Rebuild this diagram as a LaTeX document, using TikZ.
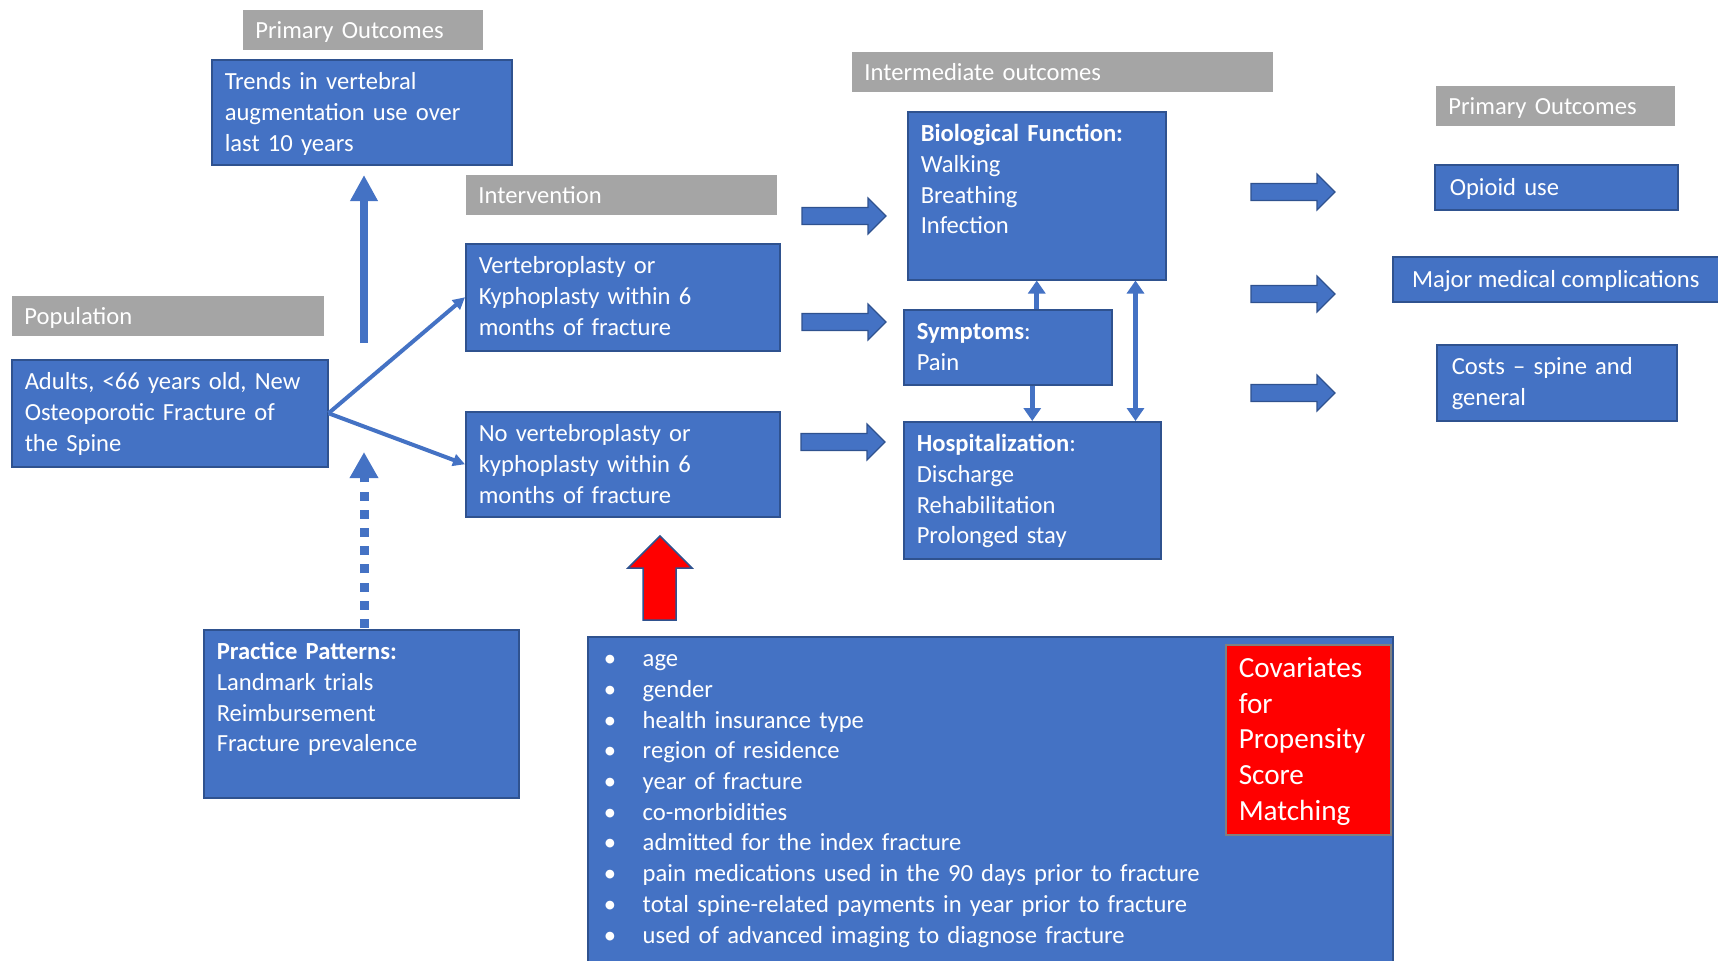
\documentclass[tikz,border=0pt]{standalone}
\usepackage{fontspec}
\setmainfont{Carlito}
\usetikzlibrary{arrows.meta, positioning}

\definecolor{boxblue}{HTML}{4472C4}
\definecolor{boxedge}{HTML}{2F528F}
\definecolor{hdrgray}{HTML}{A5A5A5}
\definecolor{covred}{HTML}{FF0000}

\newcommand{\bul}{\makebox[19.5pt][l]{\textbullet}}

\begin{document}
\begin{tikzpicture}[x=0.5pt, y=-0.5pt, font=\fontsize{12.3}{15.35}\selectfont]
  \tikzstyle{box} = [draw=boxedge, line width=0.75pt, fill=boxblue, text=white, anchor=north west, align=left, inner xsep=6.5pt, inner ysep=6pt, text height=9pt]
  \tikzstyle{onebox} = [draw=boxedge, line width=0.75pt, fill=boxblue, text=white, anchor=north west, align=left, minimum height=22.5pt, inner xsep=7.5pt, inner ysep=0pt, text height=11pt, text depth=2.5pt]
  \tikzstyle{header} = [fill=hdrgray, text=white, align=left, minimum height=20pt, inner xsep=6pt, inner ysep=0pt, text height=11pt, text depth=2.5pt]
  \tikzstyle{link} = [draw=boxblue, line width=2pt, -{Triangle[length=6pt, width=6pt]}]
  \tikzstyle{smalllink} = [draw=boxblue, line width=2.3pt, -{Triangle[length=6.5pt, width=8.5pt]}]
  \tikzstyle{smallboth} = [draw=boxblue, line width=2.3pt, {Triangle[length=6.5pt, width=8.5pt]}-{Triangle[length=6.5pt, width=8.5pt]}]
  \tikzstyle{fatlink} = [draw=boxblue, line width=4.2pt, -{Triangle[length=13pt, width=13pt]}]
  \tikzstyle{dotlink} = [draw=boxblue, line width=4.5pt, dash pattern=on 4.5pt off 4.6pt, -{Triangle[length=13pt, width=13.5pt]}]
  \tikzstyle{blockarrow} = [fill=boxblue, draw=boxedge, line width=0.6pt]
  \tikzstyle{redarrow} = [fill=covred, draw=boxedge, line width=0.75pt]

  \useasboundingbox (0,0) rectangle (1718,960);

  % left column
  \node[box, text width=137pt, text depth=31.5pt] (trends) at (211,59) {Trends in vertebral\\augmentation use over\\last 10 years};
  \node[header, text width=108pt] (primleft) [above right=4.5pt and 16pt of trends.north west] {Primary Outcomes};
  \node[box, text width=145pt, text depth=32.5pt] (adults) at (11,359) {Adults, <66 years old, New\\Osteoporotic Fracture of\\the Spine};
  \node[header, text width=144pt] (population) [above right=11.5pt and 0.5pt of adults.north west] {Population};
  \node[box, text width=144.5pt, text depth=63pt] (practice) at (203,629) {\textbf{Practice Patterns:}\\Landmark trials\\Reimbursement\\Fracture prevalence};

  % intervention
  \node[box, text width=144pt, text depth=32.5pt] (vert) at (465,243) {Vertebroplasty or\\Kyphoplasty within 6\\months of fracture};
  \node[header, text width=143.5pt] (intervention) [above right=14pt and 0.5pt of vert.north west] {Intervention};
  \node[box, text width=144pt, text depth=31.5pt] (novert) at (465,411) {No vertebroplasty or\\kyphoplasty within 6\\months of fracture};

  % intermediate outcomes
  \node[box, text width=116pt, text depth=63pt] (bio) at (907,111) {\textbf{Biological Function:}\\Walking\\Breathing\\Infection};
  \node[header, text width=198.5pt] (intermediate) [above right=9.5pt and -27.5pt of bio.north west] {Intermediate outcomes};
  \node[box, text width=91pt, text depth=16.5pt] (symp) at (903,309) {\textbf{Symptoms}:\\Pain};
  \node[box, text width=115.5pt, text depth=47.5pt] (hosp) at (903,421) {\textbf{Hospitalization}:\\Discharge\\Rehabilitation\\Prolonged stay};

  % primary outcomes
  \node[onebox, text width=106.5pt] (opioid) at (1434,164) {Opioid use};
  \node[header, text width=107.5pt] (primright) [above right=19pt and 1pt of opioid.north west] {Primary Outcomes};
  \node[onebox, inner xsep=0pt, minimum width=163pt, align=center] (major) at (1392,256) {Major medical complications};
  \node[box, inner xsep=7.5pt, text width=105pt, text depth=17pt] (costs) at (1436,344) {Costs – spine and\\general};

  % covariates
  \node[box, inner xsep=8pt, text width=386.5pt, text depth=144pt] (cov) at (587,636) {\bul age\\\bul gender\\\bul health insurance type\\\bul region of residence\\\bul year of fracture\\\bul co-morbidities\\\bul admitted for the index fracture\\\bul pain medications used in the 90 days prior to fracture\\\bul total spine-related payments in year prior to fracture\\\bul used of advanced imaging to diagnose fracture};
  \node[box, draw=gray, fill=covred, font=\fontsize{14.6}{17.8}\selectfont, text height=10.5pt, text width=69.5pt, text depth=72.5pt] (psm) at (1225,644) {Covariates\\for\\Propensity\\Score\\Matching};

  \coordinate (uptail) at (364,343);
  \coordinate (uptip) at (364,175);
  \coordinate (dottail) at (364,628);
  \coordinate (dottip) at (364,452);

  \path (adults.east) edge[link] (vert.west)
        (adults.east) edge[link] (novert.west)
        (symp.north -| bio.south) edge[smalllink] (bio.south)
        (symp.south -| hosp.north) edge[smalllink] (hosp.north)
        ([xshift=-15.5pt]bio.south east) edge[smallboth] ([xshift=-15.5pt]bio.south east |- hosp.north);
  \draw[fatlink] (uptail) -- (uptip);
  \draw[dotlink] (dottail) -- (dottip);

  % block arrows
  \foreach \x/\y in {802/216, 802/322, 801/442, 1251/192, 1251/294, 1251/393}
    \filldraw[blockarrow] (\x,\y-8.5) -- (\x+66,\y-8.5) -- (\x+66,\y-18) -- (\x+84,\y) -- (\x+66,\y+18) -- (\x+66,\y+8.5) -- (\x,\y+8.5) -- cycle;

  \filldraw[redarrow] (643,620) -- (643,568) -- (628,568) -- (660,536) -- (692,568) -- (676,568) -- (676,620) -- cycle;
\end{tikzpicture}
\end{document}
